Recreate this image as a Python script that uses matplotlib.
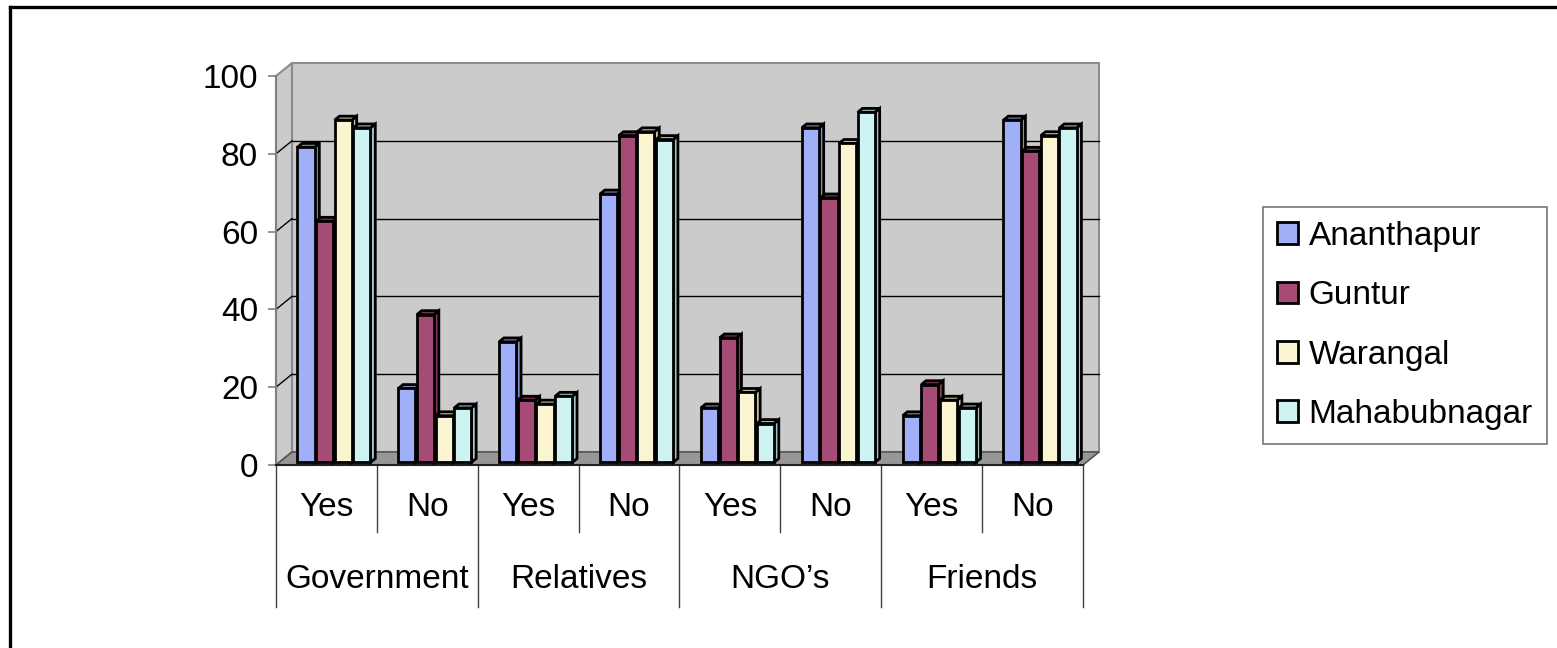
import matplotlib
matplotlib.use("Agg")
import matplotlib.pyplot as plt
from matplotlib.patches import Polygon, Patch
from matplotlib.lines import Line2D
import matplotlib.colors as mcolors
import numpy as np

plt.rcParams['font.family'] = ['Liberation Sans', 'DejaVu Sans']

# ---------------- data ----------------
groups = ["Government", "Relatives", "NGO\u2019s", "Friends"]
answers = ["Yes", "No"]
series = ["Ananthapur", "Guntur", "Warangal", "Mahabubnagar"]
ananthapur = [81, 19, 31, 69, 14, 86, 12, 88]
guntur = [62, 38, 16, 84, 32, 68, 20, 80]
warangal = [88, 12, 15, 85, 18, 82, 16, 84]
mahabubnagar = [86, 14, 17, 83, 10, 90, 14, 86]
values = [ananthapur, guntur, warangal, mahabubnagar]
colors = ["#A0AFF7", "#A54B76", "#FAF5D0", "#CDF3F3"]
yticks = [0, 20, 40, 60, 80, 100]

FS = 24

# ---------------- layout ----------------
W, H = 1557, 648
fig = plt.figure(figsize=(W / 100, H / 100), dpi=100)
fig.patch.set_facecolor("white")
ax = fig.add_axes([276 / W, (H - 465) / H, (1083 - 276) / W, (465 - 76) / H])
ncat = len(groups) * len(answers)
ax.set_xlim(0, ncat)
ax.set_ylim(0, 100)
ax.patch.set_visible(False)

# depth offset (pixels) converted to data units
p0 = ax.transData.transform((0, 0))
q = ax.transData.inverted().transform([p0 + np.array([16, 13])])[0]
ddx, ddy = q[0], q[1]

wall_c = "#CBCBCB"
edge_c = "#8C8C8C"
# back wall
ax.add_patch(Polygon([(ddx, ddy), (ncat + ddx, ddy), (ncat + ddx, 100 + ddy), (ddx, 100 + ddy)],
                     closed=True, facecolor=wall_c, edgecolor=edge_c, lw=1.5, zorder=1, clip_on=False))
# side wall
ax.add_patch(Polygon([(0, 0), (0, 100), (ddx, 100 + ddy), (ddx, ddy)],
                     closed=True, facecolor=wall_c, edgecolor=edge_c, lw=1.5, zorder=1, clip_on=False))
# gridlines
for v in yticks[1:-1]:
    ax.plot([ddx, ncat + ddx], [v + ddy, v + ddy], color="black", lw=1, zorder=2, clip_on=False)
    ax.plot([0, ddx], [v, v + ddy], color="black", lw=1, zorder=2, clip_on=False)
# floor
ax.add_patch(Polygon([(0, 0), (ncat, 0), (ncat + ddx, ddy), (ddx, ddy)],
                     closed=True, facecolor="#979797", edgecolor="#555555", lw=1.2, zorder=2, clip_on=False))

# ---------------- bars ----------------
bw = 0.17
pitch = 0.185
start = 0.18
ff = 0.2   # front face depth fraction
bd = 0.3   # bar depth fraction
fx, fy = ff * ddx, ff * ddy
bx, by = bd * ddx, bd * ddy
x = np.arange(ncat)


def darker(c, f):
    r, g, b = mcolors.to_rgb(c)
    return (r * f, g * f, b * f)


for s, (vals, col) in enumerate(zip(values, colors)):
    lefts = x + start + s * pitch + fx
    z = 4 + s
    ax.bar(lefts, vals, width=bw, bottom=fy, align="edge", color=col,
           edgecolor="black", linewidth=2.0, zorder=z + 0.2, clip_on=False)
    for l, v in zip(lefts, vals):
        top = v + fy
        ax.add_patch(Polygon([(l + bw, fy), (l + bw + bx, fy + by), (l + bw + bx, top + by), (l + bw, top)],
                             closed=True, facecolor=darker(col, 0.8), edgecolor="black", lw=2.0,
                             zorder=z, clip_on=False))
        ax.add_patch(Polygon([(l, top), (l + bw, top), (l + bw + bx, top + by), (l + bx, top + by)],
                             closed=True, facecolor=darker(col, 0.75), edgecolor="black", lw=2.0,
                             zorder=z + 0.1, clip_on=False))

# ---------------- axes ----------------
for sp in ["top", "right"]:
    ax.spines[sp].set_visible(False)
ax.spines["left"].set_color("#808080")
ax.spines["left"].set_linewidth(1.5)
ax.spines["bottom"].set_color("#202020")
ax.spines["bottom"].set_linewidth(1.5)
ax.spines["left"].set_zorder(3)
ax.spines["bottom"].set_zorder(3)
ax.set_xticks([])
ax.set_yticks(yticks)
ax.tick_params(axis="y", length=6, width=1.2, color="#808080", pad=7, labelsize=FS, labelcolor="black")

# category labels
tr = ax.get_xaxis_transform()
py = 389.0
for i in range(ncat):
    ax.text(i + 0.5, -(507 - 465) / py, answers[i % 2], transform=tr, ha="center", va="center", fontsize=FS)
for g, name in enumerate(groups):
    ax.text(2 * g + 1, -(580 - 465) / py, name, transform=tr, ha="center", va="center", fontsize=FS)
for i in range(ncat + 1):
    yb = -(607 - 465) / py if i % 2 == 0 else -(532 - 465) / py
    ax.plot([i, i], [0, yb], transform=tr, color="#404040", lw=1, clip_on=False)

# legend
handles = [Patch(facecolor=c, edgecolor="black", linewidth=2) for c in colors]
leg = fig.legend(handles, series, loc="upper left", bbox_to_anchor=(1263 / W, 1 - 207 / H),
                 frameon=True, fancybox=False, fontsize=FS, handlelength=0.62, handleheight=0.62,
                 handletextpad=0.33, labelspacing=0.85, borderpad=0.42, borderaxespad=0)
leg.get_frame().set_edgecolor("#555555")
leg.get_frame().set_linewidth(1.2)

# outer border (top and left)
fig.add_artist(Line2D([10 / W, 10 / W], [0, 1 - 7 / H], color="black", lw=2.4, transform=fig.transFigure))
fig.add_artist(Line2D([10 / W, 1], [1 - 7 / H, 1 - 7 / H], color="black", lw=2.4, transform=fig.transFigure))

fig.savefig("out.png", dpi=100)
